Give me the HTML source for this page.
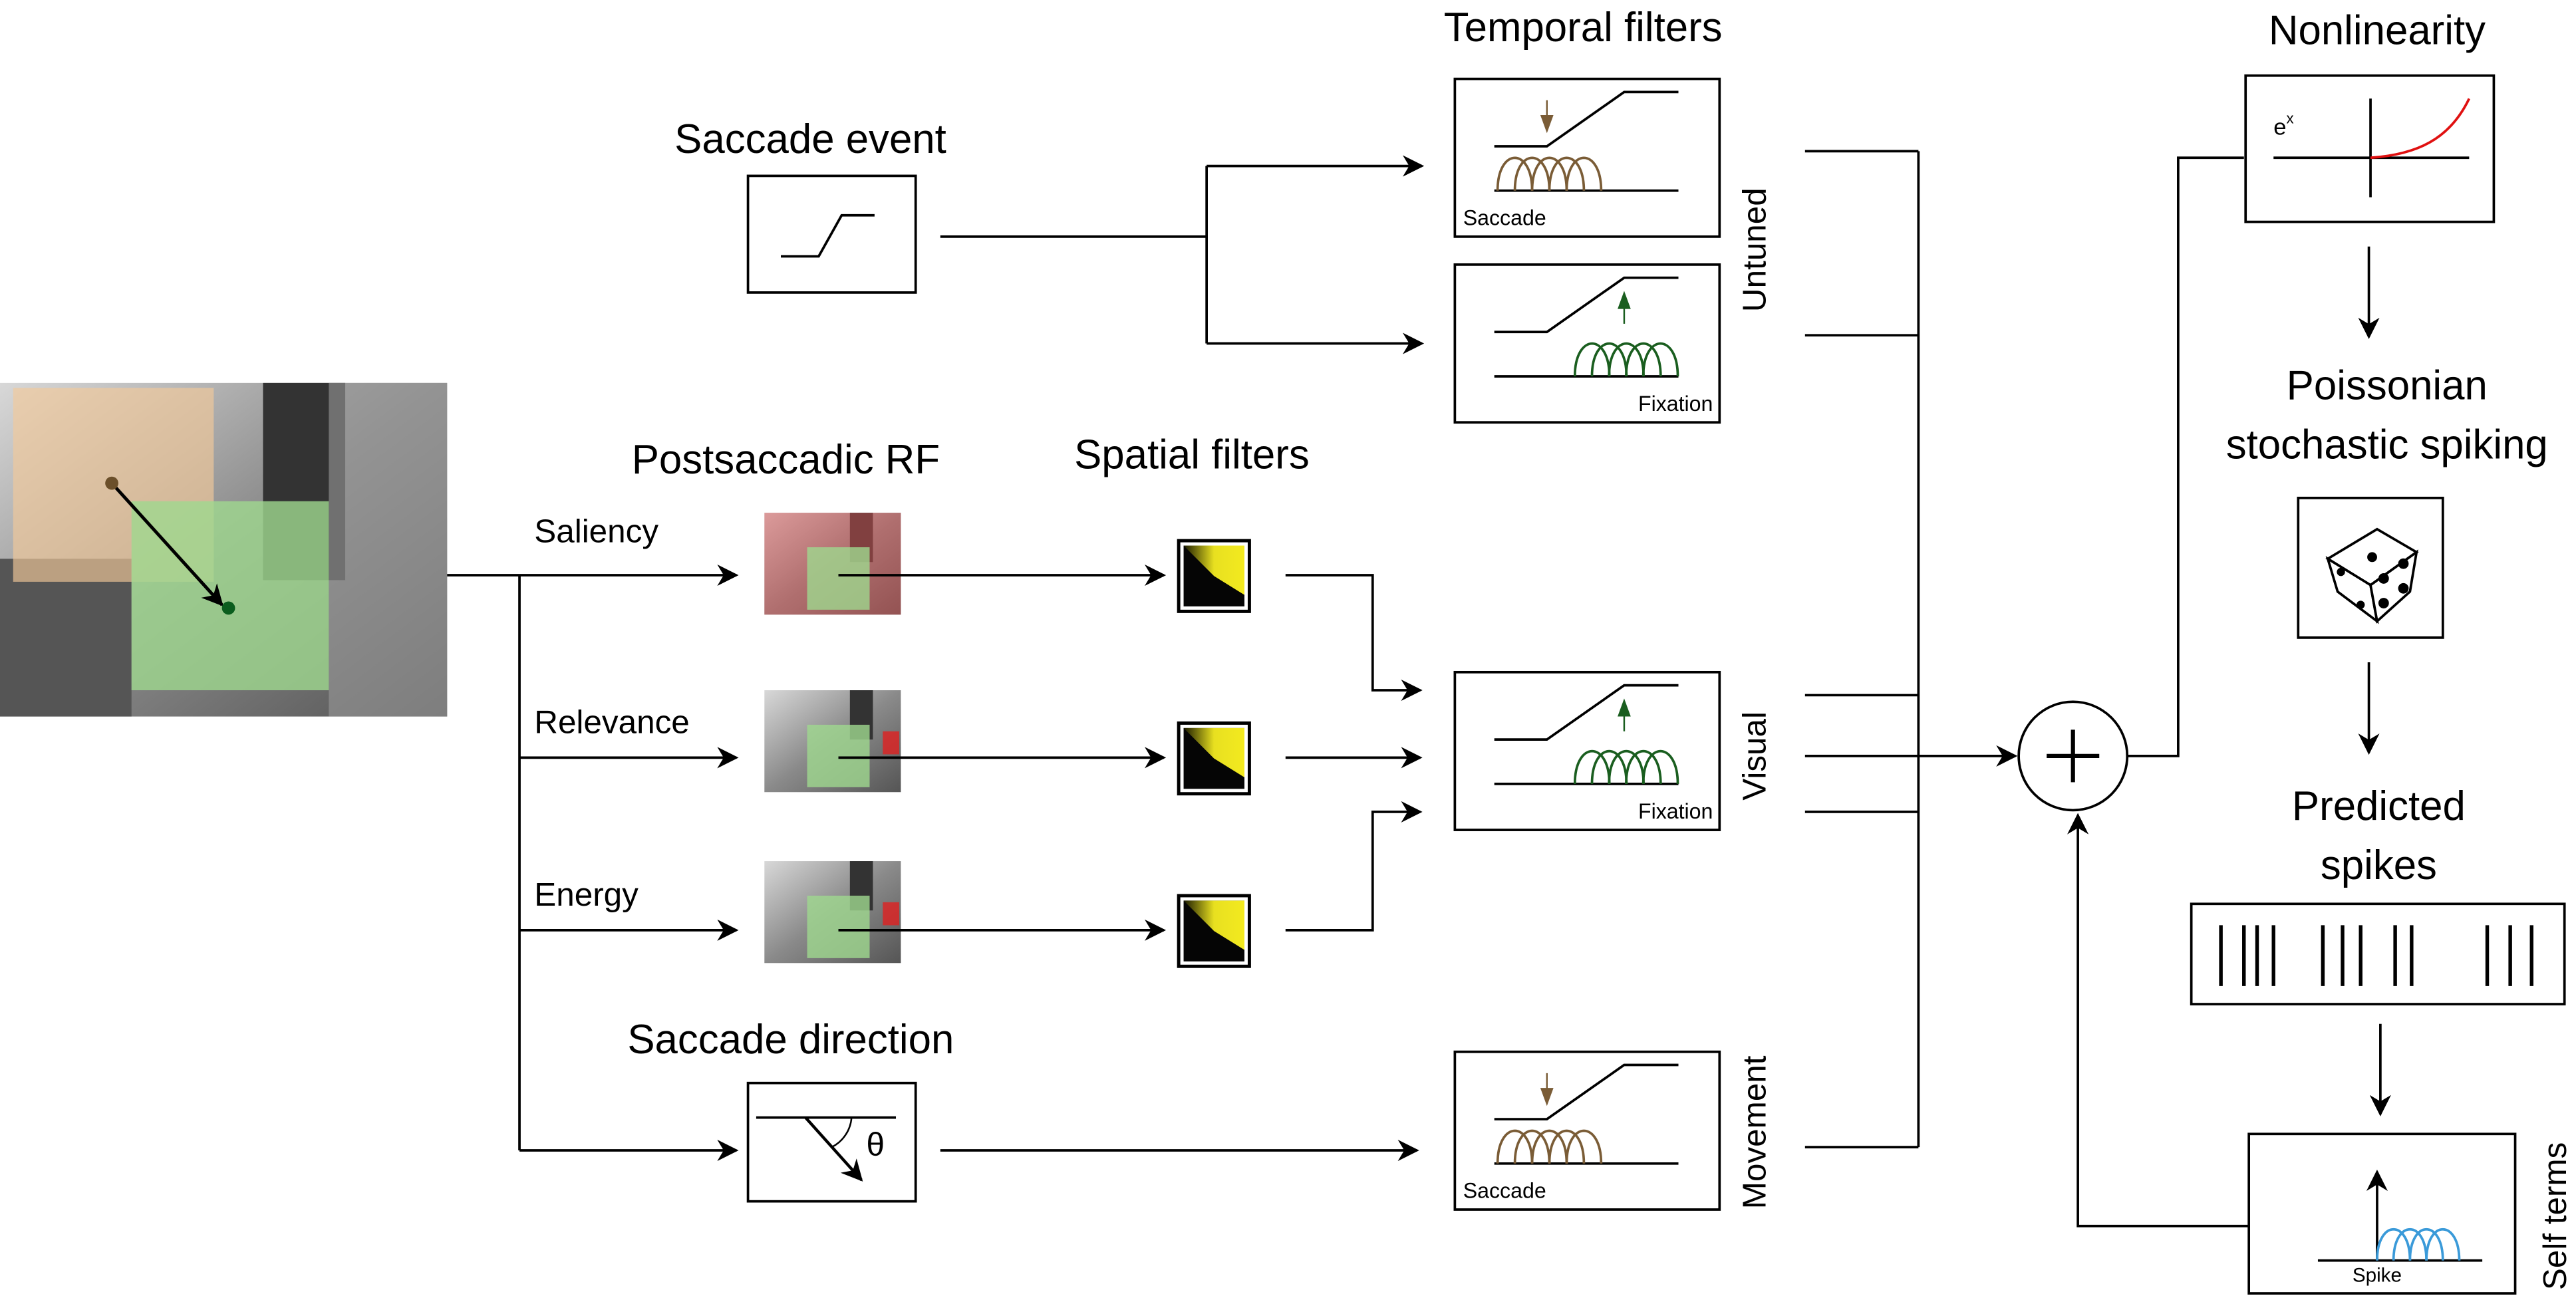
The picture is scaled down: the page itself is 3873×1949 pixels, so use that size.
<!DOCTYPE html>
<html><head><meta charset="utf-8"><style>
html,body{margin:0;padding:0;background:#fff;}
svg{display:block;}
text{font-family:"Liberation Sans",sans-serif;fill:#000;}
</style></head><body>
<svg id="fig" width="3873" height="1949" viewBox="0 0 1567 788.6" preserveAspectRatio="none" xmlns="http://www.w3.org/2000/svg">
<defs>
<marker id="ah" viewBox="0 0 10 10" refX="9" refY="5" markerWidth="13" markerHeight="13" orient="auto" markerUnits="userSpaceOnUse"><path d="M0,0 L10,5 L0,10 L3,5 Z" fill="#000"/></marker>
<linearGradient id="photo" x1="0" y1="0" x2="1" y2="1"><stop offset="0" stop-color="#d8d8d8"/><stop offset="0.5" stop-color="#8a8a8a"/><stop offset="1" stop-color="#555"/></linearGradient>
<linearGradient id="yel" x1="0" y1="0" x2="1" y2="0"><stop offset="0" stop-color="#1a1a00"/><stop offset="0.5" stop-color="#e8e020"/><stop offset="1" stop-color="#f3ea1f"/></linearGradient>
</defs>

<g>
<rect x="0" y="233" width="272" height="203" fill="url(#photo)"/>
<rect x="160" y="233" width="50" height="120" fill="#333"/>
<rect x="200" y="233" width="72" height="203" fill="#9a9a9a" opacity="0.6"/>
<rect x="0" y="340" width="80" height="96" fill="#555"/>
<rect x="8" y="236" width="122" height="118" fill="#f2c99a" opacity="0.65"/>
<rect x="80" y="305" width="120" height="115" fill="#9fd88f" opacity="0.8"/>
<line x1="68" y1="294" x2="135" y2="368" stroke="#000" stroke-width="2" marker-end="url(#ah)"/>
<circle cx="68" cy="294" r="4" fill="#6b4f2a"/>
<circle cx="139" cy="370" r="4" fill="#0b5d1e"/>
</g>

<g fill="none" stroke="#000" stroke-width="1.5">
<line x1="272" y1="350" x2="316" y2="350"/>
<line x1="316" y1="350" x2="316" y2="700"/>
<line x1="316" y1="350" x2="448" y2="350" marker-end="url(#ah)"/>
<line x1="316" y1="461" x2="448" y2="461" marker-end="url(#ah)"/>
<line x1="316" y1="566" x2="448" y2="566" marker-end="url(#ah)"/>
<line x1="316" y1="700" x2="448" y2="700" marker-end="url(#ah)"/>
</g>
<text x="325" y="330" font-size="20">Saliency</text>
<text x="325" y="446" font-size="20">Relevance</text>
<text x="325" y="551" font-size="20">Energy</text>
<text x="478" y="288" font-size="25" text-anchor="middle">Postsaccadic RF</text>
<text x="725" y="285" font-size="25" text-anchor="middle">Spatial filters</text>
<text x="493" y="93" font-size="25" text-anchor="middle">Saccade event</text>
<text x="481" y="641" font-size="25" text-anchor="middle">Saccade direction</text>
<text x="963" y="25" font-size="25" text-anchor="middle">Temporal filters</text>
<text x="1446" y="27" font-size="25" text-anchor="middle">Nonlinearity</text>
<text x="1452" y="243" font-size="25" text-anchor="middle">Poissonian</text>
<text x="1452" y="279" font-size="25" text-anchor="middle">stochastic spiking</text>
<text x="1447" y="499" font-size="25" text-anchor="middle">Predicted</text>
<text x="1447" y="535" font-size="25" text-anchor="middle">spikes</text>

<g>
<rect x="455" y="107" width="102" height="71" fill="none" stroke="#000" stroke-width="1.5"/>
<polyline points="475,156 498,156 512,131 532,131" fill="none" stroke="#000" stroke-width="1.5"/>
</g>
<g fill="none" stroke="#000" stroke-width="1.5">
<line x1="572" y1="144" x2="734" y2="144"/>
<line x1="734" y1="101" x2="734" y2="209"/>
<line x1="734" y1="101" x2="865" y2="101" marker-end="url(#ah)"/>
<line x1="734" y1="209" x2="865" y2="209" marker-end="url(#ah)"/>
</g>

<g id="thumbs"></g>

<g>
<rect x="455" y="659" width="102" height="72" fill="none" stroke="#000" stroke-width="1.5"/>
<line x1="460" y1="680" x2="545" y2="680" stroke="#000" stroke-width="1.5"/>
<line x1="490" y1="680" x2="524" y2="718" stroke="#000" stroke-width="1.8" marker-end="url(#ah)"/>
<path d="M506,698 A22,22 0 0 0 518,680" fill="none" stroke="#000" stroke-width="1"/>
<text x="527" y="703" font-size="20" font-family="Liberation Serif">θ</text>
</g>
<line x1="572" y1="700" x2="862" y2="700" stroke="#000" stroke-width="1.5" marker-end="url(#ah)"/>

<g fill="none" stroke="#000" stroke-width="1.5">
<polyline points="782,350 835,350 835,420 864,420" marker-end="url(#ah)"/>
<line x1="782" y1="461" x2="864" y2="461" marker-end="url(#ah)"/>
<polyline points="782,566 835,566 835,494 864,494" marker-end="url(#ah)"/>
</g>

<g id="tfilters"></g>
<text transform="translate(1074,152) rotate(-90)" font-size="20" text-anchor="middle">Untuned</text>
<text transform="translate(1074,460) rotate(-90)" font-size="20" text-anchor="middle">Visual</text>
<text transform="translate(1074,689) rotate(-90)" font-size="20" text-anchor="middle">Movement</text>

<g fill="none" stroke="#000" stroke-width="1.5">
<line x1="1098" y1="92" x2="1167" y2="92"/>
<line x1="1098" y1="204" x2="1167" y2="204"/>
<line x1="1098" y1="423" x2="1167" y2="423"/>
<line x1="1098" y1="494" x2="1167" y2="494"/>
<line x1="1098" y1="698" x2="1167" y2="698"/>
<line x1="1167" y1="92" x2="1167" y2="698"/>
<line x1="1098" y1="460" x2="1226" y2="460" marker-end="url(#ah)"/>
<polyline points="1294,460 1325,460 1325,96 1365,96"/>
<polyline points="1368,746 1264,746 1264,496" marker-end="url(#ah)"/>
</g>
<g>
<circle cx="1261" cy="460" r="33" fill="#fff" stroke="#000" stroke-width="1.5"/>
<line x1="1245" y1="460" x2="1277" y2="460" stroke="#000" stroke-width="2.5"/>
<line x1="1261" y1="444" x2="1261" y2="476" stroke="#000" stroke-width="2.5"/>
</g>

<g>
<rect x="1366" y="46" width="151" height="89" fill="none" stroke="#000" stroke-width="1.5"/>
<line x1="1383" y1="96" x2="1502" y2="96" stroke="#000" stroke-width="1.5"/>
<line x1="1442" y1="60" x2="1442" y2="120" stroke="#000" stroke-width="1.5"/>
<path d="M1442,96 C1470,94 1490,85 1502,60" fill="none" stroke="#e01010" stroke-width="1.5"/>
<text x="1383" y="82" font-size="14">e<tspan font-size="9" dy="-7">x</tspan></text>
</g>
<line x1="1441" y1="150" x2="1441" y2="205" stroke="#000" stroke-width="1.5" marker-end="url(#ah)"/>
<g>
<rect x="1398" y="303" width="88" height="85" fill="none" stroke="#000" stroke-width="1.5"/>
<path d="M1416,340 L1446,322 L1470,336 L1442,356 Z" fill="#fff" stroke="#000" stroke-width="1.5"/>
<path d="M1416,340 L1442,356 L1446,378 L1422,360 Z" fill="#fff" stroke="#000" stroke-width="1.5"/>
<path d="M1442,356 L1470,336 L1466,360 L1446,378 Z" fill="#fff" stroke="#000" stroke-width="1.5"/>
<circle cx="1443" cy="339" r="3" fill="#000"/>
<circle cx="1424" cy="348" r="2.5" fill="#000"/><circle cx="1436" cy="368" r="2.5" fill="#000"/>
<circle cx="1450" cy="352" r="3.2" fill="#000"/><circle cx="1462" cy="343" r="3.2" fill="#000"/>
<circle cx="1450" cy="367" r="3.2" fill="#000"/><circle cx="1462" cy="358" r="3.2" fill="#000"/>
<circle cx="1456" cy="348" r="0" fill="#000"/>
</g>
<line x1="1441" y1="403" x2="1441" y2="458" stroke="#000" stroke-width="1.5" marker-end="url(#ah)"/>
<g id="spikebox">
<rect x="1333" y="550" width="227" height="61" fill="none" stroke="#000" stroke-width="1.5"/>
</g>
<line x1="1448" y1="623" x2="1448" y2="678" stroke="#000" stroke-width="1.5" marker-end="url(#ah)"/>
<g id="selfbox">
<rect x="1368" y="690" width="162" height="97" fill="none" stroke="#000" stroke-width="1.5"/>
<line x1="1410" y1="767" x2="1510" y2="767" stroke="#000" stroke-width="1.5"/>
<line x1="1446" y1="767" x2="1446" y2="713" stroke="#000" stroke-width="1.5" marker-end="url(#ah)"/>
<text x="1446" y="780" font-size="12" text-anchor="middle">Spike</text>
</g>
<text transform="translate(1561,740) rotate(-90)" font-size="20" text-anchor="middle">Self terms</text>
</svg>
<script>
const spikeTimes = [1351,1365,1373,1383,1413,1425,1436,1457,1467,1513,1527,1540];
const NS='http://www.w3.org/2000/svg';
function mk(tag, attrs, parent){const e=document.createElementNS(NS,tag);for(const k in attrs)e.setAttribute(k,attrs[k]);parent.appendChild(e);return e;}
function arcs(parent, x0, y, n, step, w, h, col){
  for(let i=0;i<n;i++){
    const s=x0+i*step;
    mk('path',{d:`M${s},${y} C${s},${y-h*1.33} ${s+w},${y-h*1.33} ${s+w},${y}`,fill:'none',stroke:col,'stroke-width':1.5},parent);
  }
}
const sb=document.getElementById('spikebox');
spikeTimes.forEach(x=>{
  const l=mk('line',{x1:x,y1:563,x2:x,y2:600,stroke:'#000','stroke-width':2.2},sb);
  
  
});
arcs(document.getElementById('selfbox'),1446,767,4,10,20,19,'#3a9ad9');
const rows=[{y:312,tint:'#e05050',line:350},{y:420,tint:null,line:461},{y:524,tint:null,line:566}];
const th=document.getElementById('thumbs');
rows.forEach((r,i)=>{
  const g=mk('g',{},th);
  
  
  mk('rect',{x:465,y:r.y,width:83,height:62,fill:'url(#photo)'},g);
  mk('rect',{x:517,y:r.y,width:14,height:30,fill:'#333'},g);
  if(r.tint) mk('rect',{x:465,y:r.y,width:83,height:62,fill:r.tint,opacity:0.45},g);
  else mk('rect',{x:537,y:r.y+25,width:10,height:14,fill:'#e02020',opacity:0.8},g);
  mk('rect',{x:491,y:r.y+21,width:38,height:38,fill:'#9fd88f',opacity:0.8},g);
  mk('line',{x1:510,y1:r.line,x2:708,y2:r.line,stroke:'#000','stroke-width':1.5,'marker-end':'url(#ah)'},th);
  const f=mk('g',{},th);
  
  
  const fy=r.line-20;
  mk('rect',{x:717,y:fy-1,width:43,height:43,fill:'#fff',stroke:'#000','stroke-width':2},f);
  mk('rect',{x:720,y:fy+2,width:37,height:37,fill:'#050505'},f);
  mk('polygon',{points:`738.5,${fy+20.5} 720,${fy+2} 757,${fy+2} 757,${fy+32}`,fill:'url(#yel)'},f);
});
const tf=document.getElementById('tfilters');
const boxes=[{y:48,type:'sac',name:'saccade-filter-box'},{y:161,type:'fix',name:'fixation-filter-box'},{y:409,type:'fix',name:'visual-filter-box'},{y:640,type:'sac',name:'movement-filter-box'}];
boxes.forEach(b=>{
  const g=mk('g',{},tf);
  
  
  const y=b.y;
  mk('rect',{x:885,y:y,width:161,height:96,fill:'none',stroke:'#000','stroke-width':1.5},g);
  mk('polyline',{points:`909,${y+41} 941,${y+41} 988,${y+8} 1021,${y+8}`,fill:'none',stroke:'#000','stroke-width':1.5},g);
  mk('line',{x1:909,y1:y+68,x2:1021,y2:y+68,stroke:'#000','stroke-width':1.5},g);
  const col=b.type==='sac'?'#7a5c36':'#1a5e1f';
  if(b.type==='sac') arcs(g,911,y+68,5,10.5,21,20,col);
  else arcs(g,958,y+68,5,10.4,21,20,col);
  if(b.type==='sac'){
    mk('line',{x1:941,y1:y+13,x2:941,y2:y+28,stroke:col,'stroke-width':1},g);
    mk('polygon',{points:`937,${y+22} 945,${y+22} 941,${y+33}`,fill:col},g);
    const t=mk('text',{x:890,y:y+89,'font-size':13},g);t.textContent='Saccade';
  } else {
    mk('line',{x1:988,y1:y+36,x2:988,y2:y+22,stroke:col,'stroke-width':1},g);
    mk('polygon',{points:`984,${y+27} 992,${y+27} 988,${y+16}`,fill:col},g);
    const t=mk('text',{x:1042,y:y+89,'font-size':13,'text-anchor':'end'},g);t.textContent='Fixation';
  }
});
</script>
</body></html>
